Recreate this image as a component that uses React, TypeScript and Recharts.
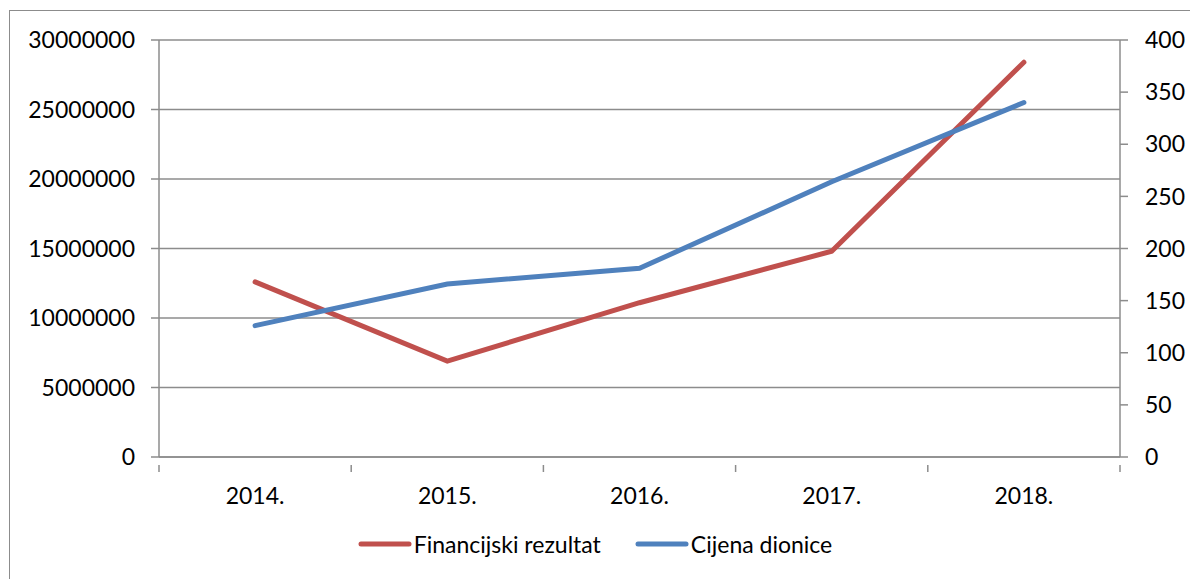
import { LineChart, Line, XAxis, YAxis, CartesianGrid, Legend } from "recharts";

const years = ["2014.", "2015.", "2016.", "2017.", "2018."];
const financijskiRezultat = [12600000, 6900000, 11100000, 14800000, 28400000];
const cijenaDionice = [126, 166, 181, 264, 340];
const leftTicks = [0, 5000000, 10000000, 15000000, 20000000, 25000000, 30000000];
const rightTicks = [0, 50, 100, 150, 200, 250, 300, 350, 400];

const data = years.map((year, i) => ({
  year,
  rezultat: financijskiRezultat[i],
  cijena: cijenaDionice[i],
}));

const W = 1190;
const H = 579;
const LEFT_W = 159;
const RIGHT_W = 70;
const BAND = (W - LEFT_W - RIGHT_W) / years.length;

const font = "Lato, 'Open Sans', sans-serif";
const gridColor = "#8c8c8c";
const RED = "#C0504D";
const BLUE = "#4F81BD";

const tickStyle = { fill: "#000", fontSize: 23, fontFamily: font };

function YearTick(props: any) {
  const { x, y, payload, index } = props;
  const isLast = index === years.length - 1;
  return (
    <g>
      <line x1={x - BAND / 2} x2={x - BAND / 2} y1={y} y2={y + 7} stroke={gridColor} strokeWidth={1.5} />
      {isLast && (
        <line x1={x + BAND / 2} x2={x + BAND / 2} y1={y} y2={y + 7} stroke={gridColor} strokeWidth={1.5} />
      )}
      <text x={x} y={y + 39} textAnchor="middle" {...tickStyle}>
        {payload.value}
      </text>
    </g>
  );
}

function LegendContent() {
  const items = [
    { label: "Financijski rezultat", color: RED },
    { label: "Cijena dionice", color: BLUE },
  ];
  return (
    <div style={{ display: "flex", justifyContent: "center", gap: 34, fontFamily: font, fontSize: 23 }}>
      {items.map((it) => (
        <div key={it.label} style={{ display: "flex", alignItems: "center" }}>
          <svg width={54} height={8} style={{ marginRight: 2 }}>
            <line x1={3} x2={51} y1={4} y2={4} stroke={it.color} strokeWidth={5} strokeLinecap="round" />
          </svg>
          <span style={{ color: "#000" }}>{it.label}</span>
        </div>
      ))}
    </div>
  );
}

export default function App() {
  return (
    <div style={{ position: "absolute", left: 0, top: 0, width: W, height: H, background: "#fff", overflow: "hidden" }}>
      <div
        style={{
          position: "absolute",
          left: 9,
          top: 10,
          width: W,
          height: H,
          borderLeft: "1.5px solid #8c8c8c",
          borderTop: "1.5px solid #8c8c8c",
        }}
      />
      <LineChart width={W} height={H} data={data} margin={{ top: 40, right: 0, bottom: 77, left: 0 }}>
        <CartesianGrid vertical={false} stroke={gridColor} strokeWidth={1.5} yAxisId="left" />
        <XAxis
          dataKey="year"
          scale="band"
          height={45}
          tickLine={false}
          axisLine={{ stroke: gridColor, strokeWidth: 1.5 }}
          tick={<YearTick />}
          interval={0}
        />
        <YAxis
          yAxisId="left"
          width={LEFT_W}
          domain={[0, 30000000]}
          ticks={leftTicks}
          interval={0}
          tickSize={8}
          tickMargin={16}
          tick={tickStyle}
          tickLine={{ stroke: gridColor, strokeWidth: 1.5 }}
          axisLine={{ stroke: gridColor, strokeWidth: 1.5 }}
        />
        <YAxis
          yAxisId="right"
          orientation="right"
          width={RIGHT_W}
          domain={[0, 400]}
          ticks={rightTicks}
          interval={0}
          tickSize={8}
          tickMargin={17}
          tick={{ ...tickStyle, textAnchor: "start" }}
          tickLine={{ stroke: gridColor, strokeWidth: 1.5 }}
          axisLine={{ stroke: gridColor, strokeWidth: 1.5 }}
        />
        <Line
          yAxisId="left"
          type="linear"
          dataKey="rezultat"
          name="Financijski rezultat"
          stroke={RED}
          strokeWidth={5}
          strokeLinecap="round"
          dot={false}
          isAnimationActive={false}
        />
        <Line
          yAxisId="right"
          type="linear"
          dataKey="cijena"
          name="Cijena dionice"
          stroke={BLUE}
          strokeWidth={5}
          strokeLinecap="round"
          dot={false}
          isAnimationActive={false}
        />
        <Legend
          layout="horizontal"
          verticalAlign="middle"
          align="center"
          content={<LegendContent />}
          wrapperStyle={{ top: 530, left: 0, width: W }}
        />
      </LineChart>
    </div>
  );
}
